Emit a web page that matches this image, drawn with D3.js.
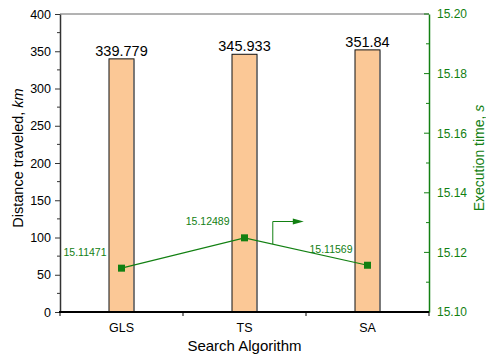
<!DOCTYPE html>
<html>
<head>
<meta charset="utf-8">
<script src="https://cdn.jsdelivr.net/npm/d3@7"></script>
<style>
  body { margin: 0; background: #fff; }
  svg { display: block; font-family: "Liberation Sans", Arial, sans-serif; }
</style>
</head>
<body>
<svg id="chart" width="486" height="360"></svg>
<script>
// Distance traveled (bars) and execution time (line) per search algorithm
const algorithms = ["GLS", "TS", "SA"];
const distanceKm = [339.779, 345.933, 351.84];
const execTimeS = [15.11471, 15.12489, 15.11569];
const distanceTicks = [0, 50, 100, 150, 200, 250, 300, 350, 400];
const timeTicks = [15.10, 15.12, 15.14, 15.16, 15.18, 15.20];

const svg = d3.select("#chart");
const L = 60, R = 429, T = 14, B = 312;
const green = "#128012";
const FONT = "Liberation Sans, Arial, sans-serif";

const x = d3.scalePoint().domain(algorithms).range([L, R]).padding(0.5);
const yL = d3.scaleLinear().domain([0, 400]).range([B, T]);
const yR = d3.scaleLinear().domain([15.10, 15.20]).range([B, T]);
const step = x.step();

// Top frame line
svg.append("line").attr("x1", L).attr("x2", R).attr("y1", T).attr("y2", T)
  .attr("stroke", "#666").attr("stroke-width", 1);

// Bars
const barW = 25;
const bars = svg.append("g");
algorithms.forEach((a, i) => {
  const cx = x(a), top = yL(distanceKm[i]);
  bars.append("rect").attr("x", cx - barW / 2).attr("y", top)
    .attr("width", barW).attr("height", B - top)
    .attr("fill", "#fbc896").attr("stroke", "#111").attr("stroke-width", 1);
  bars.append("line").attr("x1", cx + barW / 2).attr("x2", cx + barW / 2)
    .attr("y1", top + 1).attr("y2", B).attr("stroke", "#777").attr("stroke-width", 1.5);
  bars.append("text").attr("x", cx).attr("y", top - 3)
    .attr("text-anchor", "middle").attr("font-size", 14.5).attr("fill", "#000")
    .text(distanceKm[i]);
});

// Left axis
const leftAxis = svg.append("g").attr("transform", `translate(${L},0)`)
  .call(d3.axisLeft(yL).tickValues(distanceTicks).tickSize(5).tickSizeOuter(0));
leftAxis.select(".domain").attr("stroke", "#333").attr("stroke-width", 1.5);
leftAxis.selectAll(".tick line").attr("stroke", "#333");
leftAxis.selectAll(".tick text").attr("font-size", 12.5).attr("fill", "#000")
  .attr("font-family", FONT).attr("x", -9);
// minor ticks
svg.append("g").selectAll("line")
  .data(d3.range(25, 400, 50)).join("line")
  .attr("x1", L - 3).attr("x2", L).attr("y1", d => yL(d)).attr("y2", d => yL(d))
  .attr("stroke", "#333");

// Right axis
const rightAxis = svg.append("g").attr("transform", `translate(${R},0)`)
  .call(d3.axisRight(yR).tickValues(timeTicks).tickFormat(d3.format(".2f")).tickSize(0).tickSizeOuter(0));
rightAxis.select(".domain").attr("stroke", green).attr("stroke-width", 1.5);
rightAxis.selectAll(".tick text").attr("font-size", 12).attr("fill", green)
  .attr("font-family", FONT).attr("x", 8);
svg.append("g").selectAll("line")
  .data(timeTicks).join("line")
  .attr("x1", R - 5).attr("x2", R).attr("y1", d => yR(d)).attr("y2", d => yR(d))
  .attr("stroke", green);
svg.append("g").selectAll("line")
  .data(d3.range(0.01, 0.1, 0.02).map(v => 15.10 + v)).join("line")
  .attr("x1", R - 3).attr("x2", R).attr("y1", d => yR(d)).attr("y2", d => yR(d))
  .attr("stroke", green);

// Bottom axis
svg.append("line").attr("x1", L - 1).attr("x2", R).attr("y1", B).attr("y2", B)
  .attr("stroke", "#000").attr("stroke-width", 2);
const bounds = [L, ...algorithms.map(a => x(a) + step / 2)];
svg.append("g").selectAll("line").data(bounds).join("line")
  .attr("x1", d => d).attr("x2", d => d).attr("y1", B).attr("y2", B + 4)
  .attr("stroke", "#000").attr("stroke-width", 1);
svg.append("g").selectAll("text").data(algorithms).join("text")
  .attr("x", d => x(d)).attr("y", B + 20).attr("text-anchor", "middle")
  .attr("font-size", 12.5).attr("fill", "#000").text(d => d);

// Execution time line
const pts = algorithms.map((a, i) => [x(a), yR(execTimeS[i])]);
svg.append("path").attr("d", d3.line()(pts)).attr("fill", "none")
  .attr("stroke", green).attr("stroke-width", 1.2);
svg.append("g").selectAll("rect").data(pts).join("rect")
  .attr("x", d => d[0] - 3.5).attr("y", d => d[1] - 3.5)
  .attr("width", 7).attr("height", 7).attr("fill", green);
svg.append("g").selectAll("text").data(algorithms).join("text")
  .attr("x", d => x(d) - 15)
  .attr("y", (d, i) => yR(execTimeS[i]) - 12.5)
  .attr("text-anchor", "end").attr("font-size", 10.5).attr("fill", green)
  .text((d, i) => execTimeS[i].toFixed(5));

// Arrow pointing toward the time axis
const ax = x("TS") + (x("SA") - x("TS")) * 0.23;
const ay = d3.scaleLinear().domain([x("TS"), x("SA")]).range([pts[1][1], pts[2][1]])(ax);
const arrowY = 221.5;
svg.append("path")
  .attr("d", `M${ax},${ay} V${arrowY} H${ax + 22}`)
  .attr("fill", "none").attr("stroke", green).attr("stroke-width", 1);
svg.append("path")
  .attr("d", `M${ax + 31},${arrowY} L${ax + 20},${arrowY - 3} L${ax + 20},${arrowY + 3} Z`)
  .attr("fill", green);

// Axis titles
const titleMid = 158;
const yTitle = svg.append("text")
  .attr("transform", `translate(22.5,${titleMid}) rotate(-90)`)
  .attr("text-anchor", "middle").attr("font-size", 14.5).attr("fill", "#000");
yTitle.append("tspan").text("Distance traveled, ");
yTitle.append("tspan").attr("font-style", "italic").text("km");

const rTitle = svg.append("text")
  .attr("transform", `translate(484,${titleMid}) rotate(-90)`)
  .attr("text-anchor", "middle").attr("font-size", 14).attr("fill", green);
rTitle.append("tspan").text("Execution time, ");
rTitle.append("tspan").attr("font-style", "italic").text("s");

svg.append("text").attr("x", (L + R) / 2).attr("y", 351)
  .attr("text-anchor", "middle").attr("font-size", 15).attr("fill", "#000")
  .text("Search Algorithm");
</script>
</body>
</html>
